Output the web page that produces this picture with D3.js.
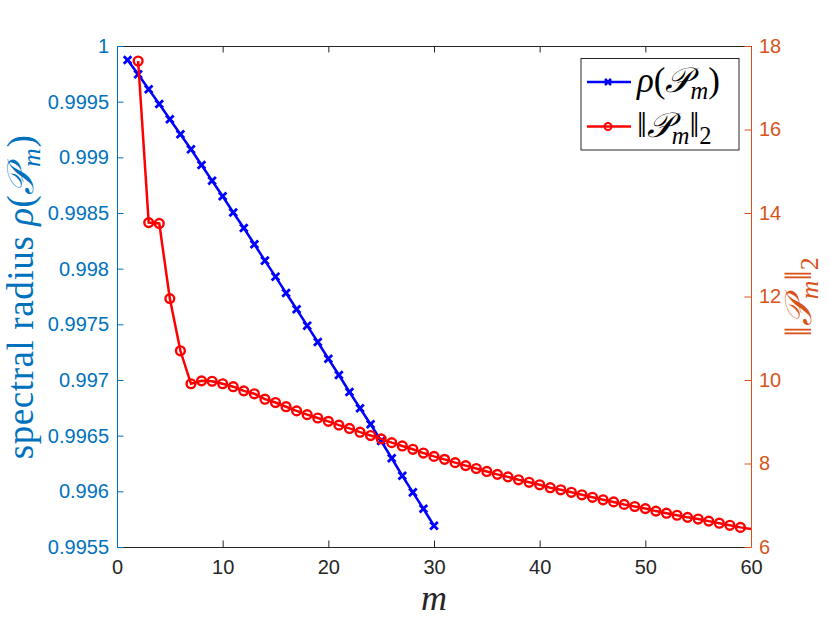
<!DOCTYPE html>
<html>
<head>
<meta charset="utf-8">
<script src="https://cdn.jsdelivr.net/npm/d3@7"></script>
<style>
body { margin: 0; background: #fff; }
</style>
</head>
<body>
<div id="chart"></div>
<script>
// data
const m_rho = [1, 2, 3, 4, 5, 6, 7, 8, 9, 10, 11, 12, 13, 14, 15, 16, 17, 18, 19, 20,
	21, 22, 23, 24, 25, 26, 27, 28, 29, 30];
const rho = [0.999874, 0.999746, 0.999611, 0.999479, 0.999342, 0.999207, 0.999072,
	0.998931, 0.99879, 0.99865, 0.998504, 0.998365, 0.998219, 0.998072, 0.997928,
	0.997781, 0.997635, 0.997488, 0.997341, 0.997191, 0.997045, 0.996892, 0.996746,
	0.996602, 0.996452, 0.996297, 0.99614, 0.995991, 0.995844, 0.995691];

const m_norm = [2, 3, 4, 5, 6, 7, 8, 9, 10, 11, 12, 13, 14, 15, 16, 17, 18, 19, 20,
	21, 22, 23, 24, 25, 26, 27, 28, 29, 30, 31, 32, 33, 34, 35, 36, 37, 38, 39, 40,
	41, 42, 43, 44, 45, 46, 47, 48, 49, 50, 51, 52, 53, 54, 55, 56, 57, 58, 59, 60];
const norm2 = [17.64, 13.77, 13.75, 11.95, 10.7, 9.91, 9.98, 9.97, 9.91, 9.84, 9.74,
	9.67, 9.54, 9.46, 9.36, 9.26, 9.17, 9.09, 9.01, 8.92, 8.84, 8.75, 8.67, 8.59, 8.5,
	8.42, 8.34, 8.25, 8.17, 8.1, 8.02, 7.95, 7.88, 7.81, 7.74, 7.68, 7.61, 7.55, 7.49,
	7.42, 7.37, 7.31, 7.25, 7.19, 7.13, 7.08, 7.02, 6.97, 6.92, 6.86, 6.81, 6.76, 6.71,
	6.67, 6.62, 6.57, 6.52, 6.47, 6.43];

const x_ticks = [0, 10, 20, 30, 40, 50, 60];
const left_ticks = [0.9955, 0.996, 0.9965, 0.997, 0.9975, 0.998, 0.9985, 0.999, 0.9995, 1];
const left_labels = ["0.9955", "0.996", "0.9965", "0.997", "0.9975", "0.998", "0.9985",
	"0.999", "0.9995", "1"];
const right_ticks = [6, 8, 10, 12, 14, 16, 18];

const width = 830;
const height = 623;
const margin = { top: 46, right: 79, bottom: 76, left: 117 };
const blue_axis = "#0072BD";
const orange_axis = "#D95319";
const dark = "#262626";
const tick_font = "'Liberation Sans', Arial, Helvetica, sans-serif";
const math_font = "'Liberation Serif', 'Times New Roman', serif";

const svg = d3.select("#chart")
	.append("svg")
	.attr("width", width)
	.attr("height", height);

const x = d3.scaleLinear()
	.domain([0, 60])
	.range([margin.left, width - margin.right]);
const yL = d3.scaleLinear()
	.domain([0.9955, 1])
	.range([height - margin.bottom, margin.top]);
const yR = d3.scaleLinear()
	.domain([6, 18])
	.range([height - margin.bottom, margin.top]);

svg.append("clipPath")
	.attr("id", "plot_clip")
	.append("rect")
	.attr("x", margin.left)
	.attr("y", margin.top)
	.attr("width", width - margin.left - margin.right)
	.attr("height", height - margin.top - margin.bottom);

// axes (ticks point inward like matlab)
function style_axis(g, color, show_text) {
	g.select(".domain").attr("stroke", color).attr("stroke-width", 1);
	g.selectAll(".tick line").attr("stroke", color).attr("stroke-width", 1);
	g.selectAll(".tick text")
		.attr("fill", show_text ? color : "none")
		.style("font-family", tick_font)
		.style("font-size", "20px");
}

svg.append("g")
	.attr("transform", `translate(0,${margin.top})`)
	.call(d3.axisTop(x).tickValues(x_ticks).tickSizeInner(-6.5).tickSizeOuter(0).tickFormat(""))
	.call(g => style_axis(g, dark, false));

svg.append("g")
	.attr("transform", `translate(0,${height - margin.bottom})`)
	.call(d3.axisBottom(x).tickValues(x_ticks).tickSizeInner(-6.5).tickSizeOuter(0).tickPadding(13))
	.call(g => style_axis(g, dark, true));

svg.append("g")
	.attr("transform", `translate(${margin.left},0)`)
	.call(d3.axisLeft(yL).tickValues(left_ticks).tickSizeInner(-6.5).tickSizeOuter(0)
		.tickPadding(8).tickFormat((d, i) => left_labels[i]))
	.call(g => style_axis(g, blue_axis, true));

svg.append("g")
	.attr("transform", `translate(${width - margin.right},0)`)
	.call(d3.axisRight(yR).tickValues(right_ticks).tickSizeInner(-6.5).tickSizeOuter(0).tickPadding(8))
	.call(g => style_axis(g, orange_axis, true));

// series
const plot = svg.append("g").attr("clip-path", "url(#plot_clip)");

const rho_data = m_rho.map((m, i) => ({ m: m, v: rho[i] }));
const norm_data = m_norm.map((m, i) => ({ m: m, v: norm2[i] }));

plot.append("path")
	.datum(rho_data)
	.attr("fill", "none")
	.attr("stroke", "#0000FF")
	.attr("stroke-width", 2.5)
	.attr("d", d3.line().x(d => x(d.m)).y(d => yL(d.v)));

const cross = 3.8;
plot.selectAll(".rho_mark")
	.data(rho_data)
	.join("path")
	.attr("class", "rho_mark")
	.attr("d", d => {
		const cx = x(d.m), cy = yL(d.v);
		return `M${cx - cross},${cy - cross}L${cx + cross},${cy + cross}M${cx - cross},${cy + cross}L${cx + cross},${cy - cross}`;
	})
	.attr("stroke", "#0000FF")
	.attr("stroke-width", 2.8);

plot.append("path")
	.datum(norm_data)
	.attr("fill", "none")
	.attr("stroke", "#FF0000")
	.attr("stroke-width", 2.5)
	.attr("d", d3.line().x(d => x(d.m)).y(d => yR(d.v)));

// markers on the axis edge are not drawn
plot.selectAll(".norm_mark")
	.data(norm_data.filter(d => d.m < x.domain()[1]))
	.join("circle")
	.attr("class", "norm_mark")
	.attr("cx", d => x(d.m))
	.attr("cy", d => yR(d.v))
	.attr("r", 4.4)
	.attr("fill", "none")
	.attr("stroke", "#FF0000")
	.attr("stroke-width", 2.4);

// math labels
function rho_label(t, size) {
	t.append("tspan").style("font-style", "italic").text("ρ");
	t.append("tspan").text("(");
	t.append("tspan").style("font-style", "italic").text("𝒫");
	t.append("tspan").style("font-style", "italic").style("font-size", size * 0.7 + "px")
		.attr("dy", size * 0.2).text("m");
	t.append("tspan").attr("dy", -size * 0.2).text(")");
}
function norm_label(t, size) {
	t.append("tspan").text("‖");
	t.append("tspan").style("font-style", "italic").text("𝒫");
	t.append("tspan").style("font-style", "italic").style("font-size", size * 0.7 + "px")
		.attr("dy", size * 0.2).text("m");
	t.append("tspan").attr("dy", -size * 0.2).text("‖");
	t.append("tspan").style("font-size", size * 0.7 + "px").attr("dy", size * 0.2).text("2");
}

const ylab = svg.append("text")
	.attr("transform", "translate(33,297) rotate(-90)")
	.attr("text-anchor", "middle")
	.attr("fill", blue_axis)
	.style("font-family", math_font)
	.style("font-size", "37px")
	.style("letter-spacing", "0.6px");
ylab.append("tspan").text("spectral radius ");
rho_label(ylab, 37);

const ylab2 = svg.append("text")
	.attr("transform", "translate(811,297) rotate(-90)")
	.attr("text-anchor", "middle")
	.attr("fill", orange_axis)
	.style("font-family", math_font)
	.style("font-size", "37px");
norm_label(ylab2, 37);

svg.append("text")
	.attr("x", 434)
	.attr("y", 610)
	.attr("text-anchor", "middle")
	.attr("fill", dark)
	.style("font-family", math_font)
	.style("font-size", "36px")
	.style("font-style", "italic")
	.text("m");

// legend
const legend = svg.append("g");
legend.append("rect")
	.attr("x", 581)
	.attr("y", 58.5)
	.attr("width", 158)
	.attr("height", 91.5)
	.attr("fill", "#fff")
	.attr("stroke", dark)
	.attr("stroke-width", 1);

const legend_rows = [
	{ color: "#0000FF", y: 82, mark: "x", label: rho_label },
	{ color: "#FF0000", y: 126.5, mark: "o", label: norm_label },
];
legend_rows.forEach(r => {
	legend.append("line")
		.attr("x1", 587).attr("x2", 631)
		.attr("y1", r.y).attr("y2", r.y)
		.attr("stroke", r.color)
		.attr("stroke-width", 2.5);
	if (r.mark === "x") {
		legend.append("path")
			.attr("d", `M${608 - 3},${r.y - 3}L${608 + 3},${r.y + 3}M${608 - 3},${r.y + 3}L${608 + 3},${r.y - 3}`)
			.attr("stroke", r.color)
			.attr("stroke-width", 2.5);
	} else {
		legend.append("circle")
			.attr("cx", 608).attr("cy", r.y).attr("r", 3.5)
			.attr("fill", "none")
			.attr("stroke", r.color)
			.attr("stroke-width", 2);
	}
	const t = legend.append("text")
		.attr("x", 637)
		.attr("y", r.y + 10)
		.attr("fill", "#000")
		.style("font-family", math_font)
		.style("font-size", "35px");
	r.label(t, 35);
});
</script>
</body>
</html>
